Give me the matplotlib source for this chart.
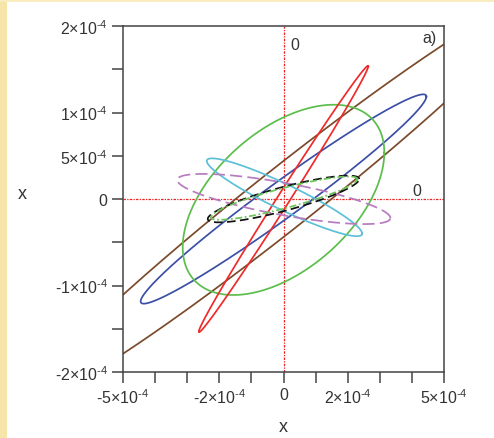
import matplotlib.pyplot as plt
import numpy as np
from matplotlib.patches import Rectangle
from matplotlib.ticker import FixedLocator, FixedFormatter

plt.rcParams['font.family'] = ['Liberation Sans', 'DejaVu Sans']
plt.rcParams['mathtext.fontset'] = 'custom'
plt.rcParams['mathtext.rm'] = 'Liberation Sans'
plt.rcParams['mathtext.it'] = 'Liberation Sans'

# closed loops x = xc + ax*cos(t), y = yc + ay*cos(t - phase)
loop_names = ['brown', 'blue', 'green', 'red', 'cyan', 'purple', 'black', 'green2']
loop_xc = [0.0, 0.0, 0.0, 0.0, 0.03e-4, 0.01e-4, 0.0, 0.02e-4]
loop_yc = [0.0, 0.0, -0.01e-4, 0.0, 0.02e-4, 0.0, 0.0, 0.01e-4]
loop_ax = [7.9e-4, 4.45e-4, 3.14e-4, 2.64e-4, 2.42e-4, 3.32e-4, 2.36e-4, 2.28e-4]
loop_ay = [2.33e-4, 1.21e-4, 1.10e-4, 1.54e-4, 0.45e-4, 0.29e-4, 0.27e-4, 0.25e-4]
loop_phase = [0.19, 0.21, 1.05, 0.085, 2.77, 2.43, 0.55, 0.5]
loop_colors = ['#7b4a2b', '#3b4fa6', '#5cbd4c', '#ee2a2a', '#5cc0d8', '#b77bc0', '#111111', '#6cc35a']
loop_styles = ['-', '-', '-', '-', '-', (0, (7, 3)), (0, (5, 2.5)), (0, (4, 1.5, 1, 1.5))]


def sci(m):
    return m + r'$\times$10$^{\text{-4}}$'


x_ticks = [-5e-4, -4e-4, -3e-4, -2e-4, -1e-4, 0, 1e-4, 2e-4, 3e-4, 4e-4, 5e-4]
x_labels = [sci('-5'), '', '', sci('-2'), '', '0', '', sci('2'), '', '', sci('5')]
y_ticks = [-2e-4, -1.5e-4, -1e-4, -0.5e-4, 0, 0.5e-4, 1e-4, 1.5e-4, 2e-4]
y_labels = [sci('-2'), '', sci('-1'), '', '0', sci('5'), sci('1'), '', sci('2')]

fig = plt.figure(figsize=(4.94, 4.39), dpi=100, facecolor='white')
# cream frame on the left and top
fig.patches.append(Rectangle((0, 0), 7 / 494, 1, transform=fig.transFigure,
                             facecolor='#f7e4a8', edgecolor='none', zorder=0))
fig.patches.append(Rectangle((0, 1 - 3 / 439), 1, 3 / 439, transform=fig.transFigure,
                             facecolor='#f9ecc0', edgecolor='none', zorder=0))

ax = fig.add_axes([123 / 494, 66 / 439, 321 / 494, 346 / 439])

t = np.linspace(0, 2 * np.pi, 600)
for i in range(len(loop_names)):
    xs = loop_xc[i] + loop_ax[i] * np.cos(t)
    ys = loop_yc[i] + loop_ay[i] * np.cos(t - loop_phase[i])
    ax.plot(xs, ys, color=loop_colors[i], linestyle=loop_styles[i], lw=1.25)

ax.axhline(0, color='#ee2222', lw=0.9, linestyle=(0, (2, 1, 1, 1)), zorder=1)
ax.axvline(0, color='#ee2222', lw=0.9, linestyle=(0, (2, 1, 1, 1)), zorder=1)

ax.set_xlim(-5e-4, 5e-4)
ax.set_ylim(-2e-4, 2e-4)
ax.xaxis.set_major_locator(FixedLocator(x_ticks))
ax.xaxis.set_major_formatter(FixedFormatter(x_labels))
ax.yaxis.set_major_locator(FixedLocator(y_ticks))
ax.yaxis.set_major_formatter(FixedFormatter(y_labels))
ax.tick_params(direction='out', length=8, width=1.1, color='#444444',
               labelsize=11.5, labelcolor='#333333', pad=3)
for s in ax.spines.values():
    s.set_color('#444444')
    s.set_linewidth(1.1)

ax.text(0.2e-4, 1.79e-4, '0', fontsize=11.5, color='#333333', ha='left', va='center')
ax.text(4.15e-4, 0.1e-4, '0', fontsize=11.5, color='#333333', ha='center', va='center')
ax.text(4.55e-4, 1.87e-4, 'a)', fontsize=11.5, color='#333333', ha='center', va='center')

fig.text(22 / 494, 1 - 195 / 439, 'x', fontsize=13, color='#333333', ha='center', va='center')
fig.text(283 / 494, 1 - 428 / 439, 'x', fontsize=13, color='#333333', ha='center', va='center')

fig.savefig('out.png', dpi=100)
